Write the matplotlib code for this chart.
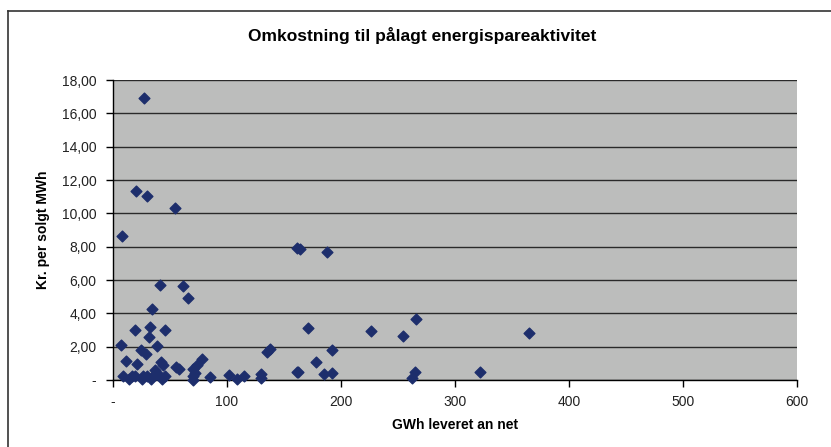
import numpy as np
import matplotlib.pyplot as plt
from matplotlib.lines import Line2D

plt.rcParams['font.family'] = ['Liberation Sans', 'DejaVu Sans']

# GWh leveret an net vs kr. per solgt MWh
gwh = [27.5, 19.9, 29.5, 54.1, 7.9, 161.0, 164.0, 188.0,
       41.5, 61.4, 65.8, 34.5, 19.3, 32.5, 31.9, 45.9,
       6.7, 24.8, 28.7, 38.9, 11.4, 20.8, 41.8, 43.5,
       55.3, 58.2, 69.9, 73.4, 77.8, 72.0, 36.8,
       8.5, 16.4, 19.3, 26.6, 29.5, 35.4, 41.2, 45.6,
       14.0, 25.0, 33.0, 43.0, 70.5, 70.5, 85.0, 102.0,
       109.0, 115.0, 129.5, 129.5, 134.8, 137.7, 161.0,
       171.0, 226.3, 254.7, 265.8, 364.6, 191.8, 177.8,
       162.6, 185.0, 191.8, 262.0, 264.6, 322.0]
kr_mwh = [16.95, 11.36, 11.04, 10.34, 8.64, 7.95, 7.85, 7.66,
          5.72, 5.62, 4.94, 4.24, 2.98, 3.18, 2.60, 3.02,
          2.10, 1.80, 1.54, 2.02, 1.16, 0.96, 1.06, 0.90,
          0.80, 0.64, 0.66, 0.90, 1.24, 0.40, 0.60,
          0.24, 0.24, 0.24, 0.24, 0.24, 0.24, 0.24, 0.24,
          0.04, 0.04, 0.04, 0.04, 0.24, 0.02, 0.20, 0.30,
          0.04, 0.24, 0.36, 0.10, 1.70, 1.88, 0.50,
          3.14, 2.96, 2.62, 3.64, 2.84, 1.80, 1.08,
          0.48, 0.36, 0.44, 0.10, 0.50, 0.50]

x_ticks = [0, 100, 200, 300, 400, 500, 600]
x_labels = ['-', '100', '200', '300', '400', '500', '600']
y_ticks = [0, 2, 4, 6, 8, 10, 12, 14, 16, 18]
y_labels = ['-'] + ['%d,00' % v for v in y_ticks[1:]]

fig = plt.figure(figsize=(8.31, 4.47), dpi=100)
ax = fig.add_axes([113 / 831, 67 / 447, 684 / 831, 300 / 447])
ax.set_facecolor('#bcbdbc')

ax.scatter(gwh, kr_mwh, marker='D', s=30, color='#1d2e6c', zorder=3, clip_on=False)

ax.set_xlim(0, 600)
ax.set_ylim(0, 18)
ax.set_xticks(x_ticks)
ax.set_xticklabels(x_labels)
ax.set_yticks(y_ticks)
ax.set_yticklabels(y_labels)
ax.tick_params(labelsize=10, length=5, width=1, colors='black', direction='out')
ax.tick_params(axis='x', pad=6)
ax.tick_params(axis='y', pad=7)
for lbl in ax.get_xticklabels() + ax.get_yticklabels():
    lbl.set_color('#222222')

ax.yaxis.grid(True, color='#2a2a2a', linewidth=1.0)
ax.set_axisbelow(True)
for side in ['top', 'right']:
    ax.spines[side].set_visible(False)
for side in ['left', 'bottom']:
    ax.spines[side].set_linewidth(1.0)

ax.set_xlabel('GWh leveret an net', fontsize=10, fontweight='bold', labelpad=6)
ax.set_ylabel('Kr. per solgt MWh', fontsize=10, fontweight='bold', labelpad=8)
fig.text(422 / 831, 1 - 36 / 447, 'Omkostning til pålagt energispareaktivitet',
         ha='center', va='center', fontsize=12.5, fontweight='bold')

# outer chart frame (cut off at right and bottom)
fig.add_artist(Line2D([8 / 831, 8 / 831], [0, 1 - 11 / 447], color='#333333', lw=1.2,
                      transform=fig.transFigure))
fig.add_artist(Line2D([8 / 831, 1], [1 - 11 / 447, 1 - 11 / 447], color='#333333', lw=1.2,
                      transform=fig.transFigure))

fig.savefig('out.png', dpi=100)
